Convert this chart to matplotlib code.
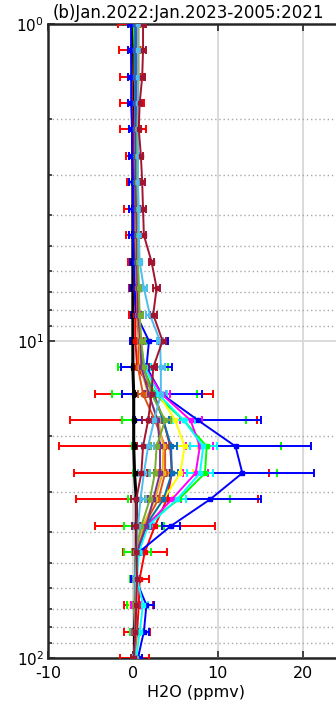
import matplotlib
matplotlib.use("Agg")
import matplotlib.pyplot as plt
from matplotlib.ticker import LogLocator, NullFormatter

plt.rcParams['font.family'] = ['DejaVu Sans']
plt.rcParams['mathtext.fontset'] = 'dejavusans'
plt.rcParams['axes.unicode_minus'] = False

# pressure levels (hPa)
pres = [1.0, 1.21, 1.47, 1.78, 2.15, 2.61, 3.16, 3.83, 4.64, 5.62, 6.81, 8.25,
        10.0, 12.1, 14.7, 17.8, 21.5, 26.1, 31.6, 38.3, 46.4, 56.2, 68.1, 82.5, 100.0]

# H2O anomaly (ppmv) for each curve, top (1 hPa) to bottom (100 hPa)
black = [0.0, 0.0, 0.0, 0.0, 0.0, 0.0, 0.0, 0.0, 0.0, 0.0, 0.0, 0.0, 0.0, 0.0,
         0.1, 0.1, 0.1, 0.2, 0.4, 0.4, 0.4, 0.3, 0.3, 0.2, 0.2]
red = [-0.2, -0.2, -0.1, -0.1, 0.0, 0.0, 0.1, 0.1, 0.1, 0.2, 0.2, 0.3, 0.3, 0.5,
       2.5, 3.6, 4.4, 4.6, 4.0, 2.6, 1.4, 0.8, 0.7, 0.5, 0.2]
green = [0.1, 0.2, 0.2, 0.3, 0.3, 0.4, 0.4, 0.5, 0.5, 0.6, 0.6, 0.7, 0.8, 1.2,
         2.6, 6.0, 8.7, 8.5, 5.4, 1.3, 0.5, 0.3, 0.2, 0.3, 0.2]
blue = [-0.2, -0.2, -0.2, -0.2, -0.1, -0.1, 0.0, 0.0, 0.0, 0.1, 0.2, 0.4, 1.9, 1.6,
        3.4, 7.7, 12.1, 12.9, 9.1, 4.5, 0.7, 0.3, 1.6, 1.3, 0.6]
yellow = [0.5, 0.5, 0.5, 0.5, 0.4, 0.4, 0.4, 0.5, 0.5, 0.5, 0.6, 0.7, 0.9, 1.3,
          3.0, 5.0, 6.1, 5.6, 3.6, 1.4, 0.6, 0.4, 0.3, 0.3, 0.3]
magenta = [0.3, 0.3, 0.3, 0.3, 0.3, 0.4, 0.4, 0.4, 0.5, 0.5, 0.6, 0.6, 0.8, 1.4,
           3.4, 6.8, 7.9, 7.4, 4.6, 1.6, 0.6, 0.4, 0.4, 0.3, 0.2]
cyan = [0.4, 0.4, 0.4, 0.4, 0.4, 0.5, 0.5, 0.5, 0.5, 0.6, 0.7, 0.7, 0.9, 1.4,
        3.0, 6.0, 8.3, 7.9, 5.2, 1.8, 0.7, 0.5, 1.2, 0.8, 0.4]
mblue = [0.3, 0.3, 0.3, 0.3, 0.3, 0.3, 0.3, 0.4, 0.4, 0.4, 0.5, 0.6, 0.9, 1.2,
         2.4, 3.6, 4.5, 4.6, 3.6, 1.5, 0.5, 0.3, 0.3, 0.3, 0.2]
orange = [0.6, 0.6, 0.6, 0.6, 0.5, 0.5, 0.5, 0.5, 0.5, 0.5, 0.5, 0.5, 0.7, 0.6,
          1.2, 2.6, 3.8, 3.8, 3.0, 1.3, 0.4, 0.3, 0.3, 0.3, 0.2]
gold = [0.7, 0.7, 0.7, 0.6, 0.6, 0.6, 0.6, 0.6, 0.6, 0.6, 0.6, 0.6, 0.8, 0.9,
        1.8, 3.0, 3.6, 3.5, 2.6, 1.2, 0.4, 0.3, 0.3, 0.3, 0.2]
purple = [0.5, 0.5, 0.5, 0.5, 0.4, 0.4, 0.4, 0.5, 0.5, 0.5, 0.6, 0.6, 0.9, 1.0,
          1.9, 2.9, 3.2, 3.2, 2.4, 1.6, 0.4, 0.3, 0.3, 0.3, 0.2]
olive = [0.6, 0.6, 0.6, 0.6, 0.5, 0.5, 0.5, 0.6, 0.6, 0.6, 0.7, 0.8, 1.0, 1.3,
         2.2, 3.8, 2.8, 2.6, 2.0, 1.0, 0.3, 0.3, 0.3, 0.3, 0.2]
lblue = [0.6, 0.6, 0.6, 0.6, 0.6, 0.6, 0.6, 0.7, 0.7, 0.8, 1.3, 2.0, 3.2, 3.3,
         3.3, 2.5, 1.8, 1.3, 0.9, 0.6, 0.4, 0.3, 0.4, 0.3, 0.2]
dred = [1.2, 1.2, 1.1, 0.8, 0.7, 0.95, 1.1, 1.2, 1.3, 2.2, 2.8, 2.4, 3.5, 2.4,
        2.2, 1.8, 1.2, 1.0, 0.4, 0.4, 0.4, 0.5, 0.4, 0.3, 0.1]

# error bar half widths
red_err = [1.6, 1.4, 1.4, 1.4, 1.5, 0.8, 0.8, 1.1, 0.9, 0.8, 0.7, 0.8, 0.6, 2.2,
           7.0, 11.0, 13.1, 11.5, 10.7, 7.1, 2.6, 1.1, 1.7, 1.5, 1.7]
green_err = [0.4, 0.4, 0.4, 0.4, 0.4, 0.4, 0.5, 0.5, 0.5, 0.5, 0.5, 0.5, 0.7, 3.0,
             5.0, 7.3, 8.8, 8.5, 6.0, 2.4, 1.6, 0.6, 0.9, 0.6, 0.4]
blue_err = [0.4, 0.4, 0.4, 0.4, 0.4, 0.4, 0.4, 0.4, 0.4, 0.4, 0.5, 0.6, 2.2, 3.0,
            4.7, 7.4, 8.9, 8.5, 6.0, 1.1, 0.6, 0.5, 0.9, 0.6, 0.5]
err_mid = [0.3, 0.3, 0.3, 0.3, 0.3, 0.3, 0.3, 0.3, 0.3, 0.3, 0.4, 0.4, 0.5, 0.7,
           1.0, 1.3, 1.6, 1.5, 1.1, 0.7, 0.4, 0.4, 0.6, 0.4, 0.3]
err_small = [0.3, 0.3, 0.3, 0.3, 0.3, 0.3, 0.3, 0.3, 0.3, 0.3, 0.4, 0.4, 0.4, 0.5,
             0.6, 0.7, 0.7, 0.7, 0.6, 0.5, 0.4, 0.3, 0.3, 0.3, 0.3]
black_err = [0.1, 0.1, 0.1, 0.1, 0.1, 0.1, 0.1, 0.1, 0.1, 0.1, 0.1, 0.1, 0.1, 0.1,
             0.1, 0.1, 0.1, 0.1, 0.1, 0.1, 0.1, 0.1, 0.1, 0.1, 0.1]

series = [
    (black, black_err, 'k'),
    (red, red_err, '#FF0000'),
    (green, green_err, '#00FF00'),
    (blue, blue_err, '#0000FF'),
    (yellow, err_mid, '#FFFF00'),
    (magenta, err_mid, '#FF00FF'),
    (cyan, err_mid, '#00FFFF'),
    (mblue, err_small, '#0072BD'),
    (orange, err_small, '#D95319'),
    (gold, err_small, '#EDB120'),
    (purple, err_small, '#7E2F8E'),
    (olive, err_small, '#77AC30'),
    (lblue, err_small, '#4DBEEE'),
    (dred, err_small, '#A2142F'),
]

fig = plt.figure(figsize=(3.36, 7.16), dpi=100)
ax = fig.add_axes([48 / 336, 1 - 658 / 716, 297 / 336, 634 / 716])

for vals, err, c in series:
    lw = 2.2 if c == 'k' else 1.4
    ax.errorbar(vals, pres, xerr=err, color=c, lw=lw, elinewidth=1.4,
                marker='s', ms=3.5, capsize=3, capthick=1.4, zorder=3)

ax.set_yscale('log')
ax.set_ylim(100, 1)
ax.set_xlim(-10, 25)
ax.set_xticks([-10, 0, 10, 20])
ax.set_yticks([1, 10, 100])
ax.set_yticklabels([r'$10^{0}$', r'$10^{1}$', r'$10^{2}$'])
ax.yaxis.set_minor_locator(LogLocator(base=10, subs=[2, 3, 4, 5, 6, 7, 8, 9]))
ax.yaxis.set_minor_formatter(NullFormatter())

ax.grid(which='major', color='#dadada', lw=1.4, zorder=0)
ax.grid(which='minor', axis='y', color='#a8a8a8', lw=1.0, ls=(0, (1, 2)), zorder=0)
ax.set_axisbelow(True)

ax.tick_params(which='both', direction='in', top=True, right=True,
               width=1.2, color='#262626')
ax.tick_params(which='major', length=5)
ax.tick_params(which='minor', length=3)
ax.tick_params(axis='x', labelsize=11.5, pad=6)
ax.tick_params(axis='y', labelsize=11, pad=3)
for s in ax.spines.values():
    s.set_linewidth(1.8)
    s.set_color('#262626')

ax.set_xlabel('H2O (ppmv)', fontsize=11.5, labelpad=3)
fig.text(53 / 336, 1 - 18 / 716, '(b)Jan.2022:Jan.2023-2005:2021',
         fontsize=12, ha='left', va='baseline')

fig.savefig('out.png', dpi=100)
